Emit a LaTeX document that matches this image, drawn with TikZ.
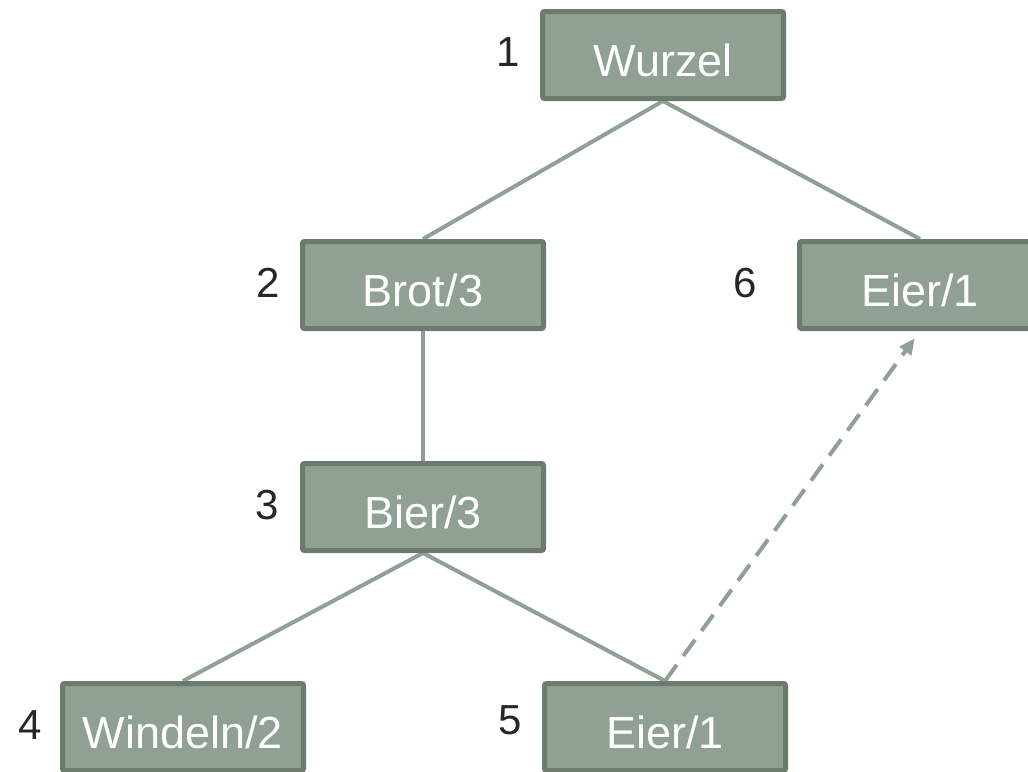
\documentclass[tikz,border=0pt]{standalone}
\usepackage{fontspec}
\setmainfont{Liberation Sans}
\usetikzlibrary{arrows.meta,backgrounds}
\definecolor{boxfill}{HTML}{90A093}
\definecolor{boxdraw}{HTML}{6D7A6E}
\definecolor{edgecol}{HTML}{8FA094}
\definecolor{numcol}{HTML}{262626}
\tikzset{
  tbox/.style={draw=boxdraw, fill=boxfill, line width=5pt, rounded corners=2pt,
    minimum width=241pt, minimum height=87pt, inner sep=0pt,
    text height=42pt, text depth=0pt,
    text=white, font=\fontsize{45}{54}\selectfont},
  numlab/.style={text=numcol, font=\fontsize{42}{50}\selectfont, anchor=center},
  tedge/.style={draw=edgecol, line width=4pt},
  darrow/.style={draw=edgecol, line width=4pt, dash pattern=on 20pt off 11pt,
    -{Triangle[length=16pt,width=14pt]}, shorten >=9pt}
}
\begin{document}
\begin{tikzpicture}[x=1pt,y=-1pt]
\clip (0,0) rectangle (1028,771);
\node[tbox] (w) at (663,55) {Wurzel};
\node[tbox] (b) at (423,285) {Brot/3};
\node[tbox] (e6) at (920,285) {Eier/1};
\node[tbox] (bi) at (423,507) {Bier/3};
\node[tbox] (wi) at (183,727) {Windeln/2};
\node[tbox] (e5) at (665,727) {Eier/1};
\node[numlab] (n1) at (508,52) {1};
\node[numlab] (n2) at (268,283) {2};
\node[numlab] (n6) at (745,283) {6};
\node[numlab] (n3) at (267,505) {3};
\node[numlab] (n4) at (30,725) {4};
\node[numlab] (n5) at (510,720) {5};
\begin{scope}[on background layer]
\draw[tedge] (w.south) -- (b.north);
\draw[tedge] (w.south) -- (e6.north);
\draw[tedge] (b.south) -- (bi.north);
\draw[tedge] (bi.south) -- (wi.north);
\draw[tedge] (bi.south) -- (e5.north);
\draw[darrow] (e5.north) -- (e6.south);
\end{scope}
\end{tikzpicture}
\end{document}
